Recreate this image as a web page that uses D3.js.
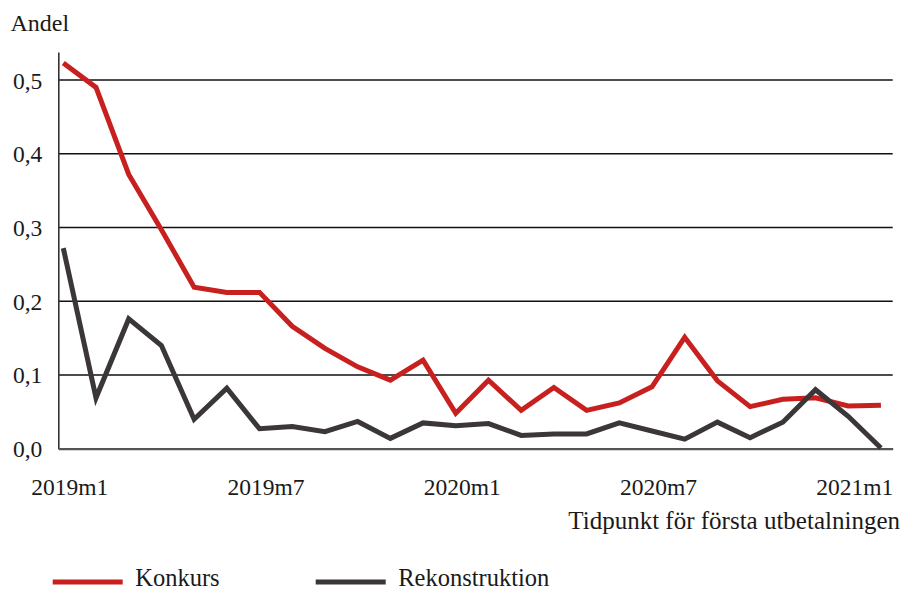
<!DOCTYPE html>
<html>
<head>
<meta charset="utf-8">
<script src="https://cdn.jsdelivr.net/npm/d3@7"></script>
<style>
  html, body { margin: 0; padding: 0; background: #fff; }
  svg { display: block; }
  text { font-family: "Liberation Serif", "DejaVu Serif", serif; fill: #1a1a1a; }
</style>
</head>
<body>
<svg id="chart" width="904" height="591"></svg>
<script>
// ---- data ----
const months = [
  "2019m1","2019m2","2019m3","2019m4","2019m5","2019m6","2019m7","2019m8","2019m9","2019m10","2019m11","2019m12",
  "2020m1","2020m2","2020m3","2020m4","2020m5","2020m6","2020m7","2020m8","2020m9","2020m10","2020m11","2020m12",
  "2021m1","2021m2"
];
const konkurs = [
  0.523, 0.490, 0.372, 0.297, 0.219, 0.212, 0.212, 0.166, 0.136, 0.111, 0.093, 0.120,
  0.048, 0.093, 0.052, 0.083, 0.052, 0.062, 0.084, 0.151, 0.092, 0.057, 0.067, 0.069,
  0.058, 0.059
];
const rekonstruktion = [
  0.272, 0.069, 0.176, 0.140, 0.040, 0.082, 0.027, 0.030, 0.023, 0.037, 0.014, 0.035,
  0.031, 0.034, 0.018, 0.020, 0.020, 0.035, 0.024, 0.013, 0.036, 0.015, 0.036, 0.080,
  0.044, 0.001
];
const yTicks = [0, 0.1, 0.2, 0.3, 0.4, 0.5];
const xTickLabels = ["2019m1", "2019m7", "2020m1", "2020m7", "2021m1"];
const seriesNames = ["Konkurs", "Rekonstruktion"];
const seriesColors = ["#c8201f", "#3b3637"];
const yTitle = "Andel";
const xTitle = "Tidpunkt för första utbetalningen";

// ---- layout ----
const svg = d3.select("#chart");
const plotLeft = 58.3, plotRight = 892.7, plotBottom = 448.7, plotTop = 52;

const x = d3.scaleLinear().domain([-0.153, 25.36]).range([plotLeft, plotRight]);
const y = d3.scaleLinear().domain([0, 0.538]).range([plotBottom, plotTop]);

const sv = d3.formatLocale({decimal: ",", thousands: " ", grouping: [3], currency: ["", " kr"]});
const fmt = sv.format(".1f");

// gridlines
svg.append("g")
  .selectAll("line")
  .data(yTicks.filter(d => d > 0))
  .join("line")
  .attr("x1", plotLeft).attr("x2", plotRight)
  .attr("y1", d => y(d)).attr("y2", d => y(d))
  .attr("stroke", "#111").attr("stroke-width", 1.4);

// y axis
const yAxis = svg.append("g")
  .attr("transform", `translate(${plotLeft},0)`)
  .call(d3.axisLeft(y).tickValues(yTicks).tickFormat(fmt).tickSize(0).tickPadding(16));
yAxis.select(".domain").attr("stroke", "#333").attr("stroke-width", 1.6);
yAxis.selectAll("text")
  .style("font-family", '"Liberation Serif", serif')
  .style("font-size", "23.5px")
  .attr("fill", "#1a1a1a")
  .attr("dy", "0.34em");

// x axis
const xIndex = xTickLabels.map(l => months.indexOf(l));
const xAxis = svg.append("g")
  .attr("transform", `translate(0,${plotBottom})`)
  .call(d3.axisBottom(x).tickValues(xIndex).tickFormat(i => months[i]).tickSize(0).tickPadding(30));
xAxis.select(".domain").attr("stroke", "#555").attr("stroke-width", 2.2);
xAxis.selectAll("text")
  .style("font-family", '"Liberation Serif", serif')
  .style("font-size", "23.5px")
  .attr("fill", "#1a1a1a")
  .attr("dx", 6);

// titles
svg.append("text").attr("x", 10.5).attr("y", 30.5)
  .style("font-size", "24px").text(yTitle);
svg.append("text").attr("x", 900).attr("y", 529).attr("text-anchor", "end")
  .style("font-size", "25px").text(xTitle);

// lines
const line = d3.line().x((d, i) => x(i)).y(d => y(d));
[konkurs, rekonstruktion].forEach((s, k) => {
  svg.append("path")
    .datum(s)
    .attr("fill", "none")
    .attr("stroke", seriesColors[k])
    .attr("stroke-width", 5)
    .attr("stroke-linejoin", "miter")
    .attr("stroke-miterlimit", 4)
    .attr("d", line);
});

// legend
const legendX = [52.7, 315.7];
const legend = svg.append("g");
seriesNames.forEach((name, k) => {
  legend.append("line")
    .attr("x1", legendX[k]).attr("x2", legendX[k] + 70)
    .attr("y1", 582).attr("y2", 582)
    .attr("stroke", seriesColors[k]).attr("stroke-width", 5);
  legend.append("text")
    .attr("x", legendX[k] + 82.5).attr("y", 586)
    .style("font-size", "24.5px").text(name);
});
</script>
</body>
</html>
